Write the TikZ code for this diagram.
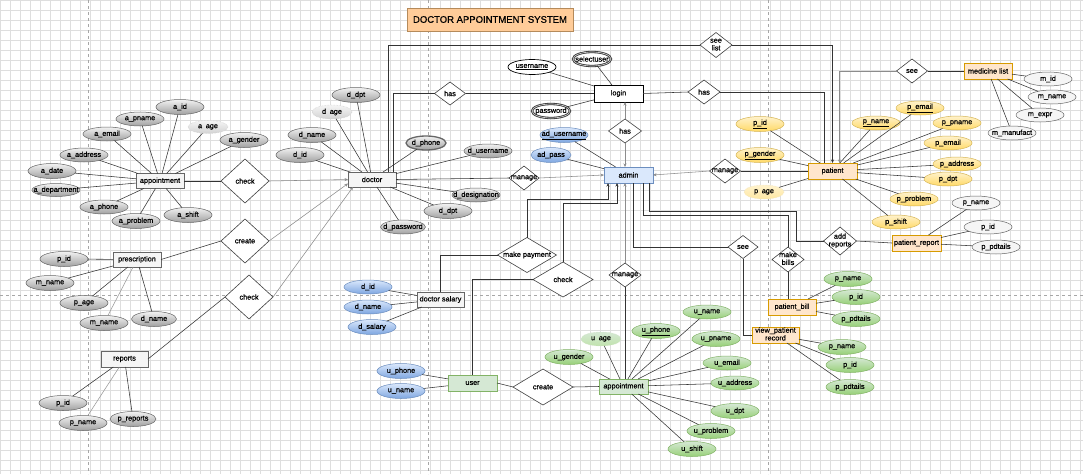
\documentclass[tikz,border=0pt]{standalone}
\usepackage{fontspec}
\setmainfont{Liberation Sans}
\newfontfamily\lblfont{Liberation Sans}[RawFeature={embolden=0.5}]
\usetikzlibrary{shapes.geometric,arrows.meta}
\definecolor{entgray}{HTML}{F5F5F5}
\definecolor{entgrayd}{HTML}{666666}
\definecolor{orfill}{HTML}{FFE6CC}
\definecolor{ordraw}{HTML}{D79B00}
\definecolor{gnfill}{HTML}{D5E8D4}
\definecolor{gndraw}{HTML}{82B366}
\definecolor{gnbot}{HTML}{97D077}
\definecolor{blfill}{HTML}{DAE8FC}
\definecolor{bldraw}{HTML}{6C8EBF}
\definecolor{blbot}{HTML}{7EA6E0}
\definecolor{yefill}{HTML}{FFF2CC}
\definecolor{yedraw}{HTML}{D6B656}
\definecolor{yebot}{HTML}{FFD966}
\definecolor{gytop}{HTML}{F2F2F2}
\definecolor{gybot}{HTML}{A0A0A0}
\definecolor{titlefill}{HTML}{FFCC99}
\definecolor{titledraw}{HTML}{B58A5A}
\newcommand{\mkatt}[4]{\node[#1] (#2) at (#3) {\makebox[0pt]{#4}};}
\newcommand{\mkrel}[5]{\node[rel,minimum width=#4,minimum height=#5] (#1) at (#2) {\makebox[0pt]{#3}};}
\newcommand{\twol}[2]{\begin{tabular}{@{}c@{}}#1\\#2\end{tabular}}
\tikzset{
 lbl/.style={font=\lblfont\fontsize{7.3}{7.8}\selectfont, inner sep=0pt, outer sep=0pt, align=center},
 ent/.style={lbl, rectangle, draw=entgrayd, fill=entgray, minimum width=48, minimum height=15, line width=0.6pt},
 entO/.style={ent, draw=ordraw, fill=orfill, line width=0.8pt},
 entG/.style={ent, draw=gndraw, fill=gnfill, line width=0.8pt},
 entB/.style={ent, draw=bldraw, fill=blfill, line width=0.8pt},
 att/.style={lbl, ellipse, minimum width=48, minimum height=15, line width=0.5pt},
 attGr/.style={att, draw=entgrayd, top color=gytop, bottom color=gybot},
 attBl/.style={att, draw=bldraw, top color=blfill, bottom color=blbot},
 attY/.style={att, draw=yedraw, top color=yefill, bottom color=yebot},
 attGn/.style={att, draw=gndraw, top color=gnfill, bottom color=gnbot},
 attW/.style={att, draw=entgrayd, fill=entgray},
 attLo/.style={att, draw=black, fill=white, line width=0.7pt},
 attD/.style={att, draw=black!80, double=gray!40, double distance=0.7pt, line width=0.8pt, fill=white},
 ageGr/.style={att, minimum width=40, minimum height=13, draw=gray!40, densely dotted, top color=gray!8, bottom color=gray!35},
 rel/.style={lbl, diamond, draw=black!75, fill=white, line width=0.6pt, aspect=1},
 ln/.style={draw=black!80, line width=0.55pt},
 lnG/.style={draw=black!40, line width=0.55pt},
 arr/.style={ln, -{Stealth[length=3.5pt,width=3pt]}},
 arrG/.style={draw=black!45, line width=0.55pt, -{Stealth[length=3.5pt,width=3pt]}},
 gridl/.style={draw=black!13, line width=0.3pt},
 pagel/.style={draw=black!35, line width=0.4pt, dashed},
 ttl/.style={rectangle, draw=titledraw, fill=titlefill, line width=0.6pt, minimum width=166, minimum height=23, inner sep=0pt, font=\lblfont\fontsize{9.5}{11}\selectfont},
}
\begin{document}
\begin{tikzpicture}[x=1pt,y=-1pt]
\useasboundingbox (0,0) rectangle (1083,474);
\fill[white] (0,0) rectangle (1083,474);
\foreach \gx in {0,10,...,1080} \draw[gridl] (\gx,0) -- (\gx,474);
\foreach \gy in {0,10,...,470} \draw[gridl] (0,\gy) -- (1083,\gy);
\draw[pagel] (88,0) -- (88,474);
\draw[pagel] (428,0) -- (428,474);
\draw[pagel] (768,0) -- (768,474);
\draw[pagel] (0,295) -- (1083,295);

% title
\node[ttl] (title) at (490,19.5) {DOCTOR APPOINTMENT SYSTEM};

% entities
\node[ent] (apptL) at (160,181) {appointment};
\node[ent] (doctor) at (372,179.5) {doctor};
\node[ent] (presc) at (137,259.5) {prescription};
\node[ent,minimum width=47,minimum height=16] (reports) at (124.5,359) {reports};
\node[ent,minimum width=47] (dsal) at (440.5,299.5) {doctor salary};
\node[ent,draw=black,fill=white,line width=0.9pt,minimum width=49,minimum height=17] (login) at (618.5,93.5) {login};
\node[entB,minimum width=49,minimum height=16] (admin) at (628.5,175) {admin};
\node[entO,minimum width=49,minimum height=16] (patient) at (832.5,171) {patient};
\node[entO,minimum height=16] (medlist) at (988,71) {medicine list};
\node[entO,minimum width=49,minimum height=16] (prep) at (916.5,243) {\makebox[0pt]{patient\_report}};
\node[entO,minimum height=16] (bill) at (792,307) {patient\_bill};
\node[entO,minimum width=47,minimum height=16] (vrec) at (775.5,335) {\makebox[0pt]{\twol{view\_patient}{record}}};
\node[entG,minimum width=49,minimum height=16] (user) at (472.5,383) {user};
\node[entG,minimum width=49] (apptU) at (623.5,386.5) {appointment};

% relations
\mkrel{checkL}{245,181}{check}{48}{44}
\mkrel{createL}{245,241}{create}{48}{44}
\mkrel{checkLL}{249,297}{check}{48}{44}
\mkrel{hasL}{450,93.5}{has}{31}{23}
\mkrel{seelist}{716,45}{\twol{see}{list}}{32}{25}
\mkrel{hasR}{704,92}{has}{32}{24}
\mkrel{hasA}{625,131}{has}{33}{24}
\mkrel{manageC}{524,178}{manage}{30}{24}
\mkrel{manageR}{725,171}{manage}{31}{24}
\mkrel{seeM}{912,71}{see}{31}{24}
\mkrel{addrep}{840,241}{\twol{add}{reports}}{33}{28}
\mkrel{seeV}{743,247}{see}{30}{23}
\mkrel{mbills}{788,259.5}{\twol{make}{bills}}{32}{25}
\mkrel{mpay}{527,255}{make payment}{59}{35}
\mkrel{checkC}{563,279.5}{check}{60}{35}
\mkrel{manageB}{625,275}{manage}{32}{24}
\mkrel{createB}{543,387}{create}{60}{36}

% appointment (left) attributes
\mkatt{attGr}{aid}{180,107}{a\_id}
\mkatt{attGr,minimum height=14}{apname}{140,119}{a\_pname}
\mkatt{ageGr}{aage}{208,127}{a\enspace age}
\mkatt{attGr}{agender}{244,140}{a\_gender}
\mkatt{attGr,minimum height=14}{aemail}{107,134}{a\_email}
\mkatt{attGr,minimum height=14}{aaddress}{84,155}{a\_address}
\mkatt{attGr}{adate}{52,171}{a\_date}
\mkatt{attGr,minimum height=13}{adept}{56,190}{a\_department}
\mkatt{attGr,minimum height=14}{aphone}{104,207}{a\_phone}
\mkatt{attGr}{aproblem}{136,221}{a\_problem}
\mkatt{attGr}{ashift}{188,215}{a\_shift}

% doctor attributes
\mkatt{attGr}{ddpt}{356,95}{d\_dpt}
\mkatt{ageGr,minimum height=14}{dage}{332,112}{d\enspace age}
\mkatt{attGr}{dname}{312,135}{d\_name}
\mkatt{attGr}{did}{300,155}{d\_id}
\mkatt{attGr,minimum width=40,minimum height=14,draw=black!60,line width=1.3pt}{dphone}{426,143}{d\_phone}
\mkatt{attGr,minimum height=14}{dusername}{488,151}{d\_username}
\mkatt{attGr,minimum height=14}{ddesig}{476,195}{d\_designation}
\mkatt{attGr}{ddpt2}{448,211}{d\_dpt}
\mkatt{attGr,minimum width=45,minimum height=14}{dpassword}{403,227}{d\_password}

% login attributes
\mkatt{attLo}{lusername}{532,67}{\underline{username}}
\mkatt{attD,minimum width=38,minimum height=14}{lselect}{592,59}{selectuser}
\mkatt{attD,minimum width=38,minimum height=14}{lpassword}{551,111}{password}

% admin attributes
\mkatt{attBl}{adusername}{564,135}{\underline{ad\_username}}
\mkatt{attBl,minimum width=40}{adpass}{551,155}{ad\_pass}

% patient attributes
\mkatt{attY}{pid}{760,124}{\underline{p\_id}}
\mkatt{attY}{pgender}{760,155}{\underline{p\_gender}}
\mkatt{attY,minimum width=40,minimum height=14,draw=yedraw!40,densely dotted,bottom color=yebot!60}{page}{764,192}{p\enspace age}
\mkatt{attY,minimum height=14}{pname}{876,123}{\underline{p\_name}}
\mkatt{attY,minimum height=14}{pemail}{920,108}{\underline{p\_email}}
\mkatt{attY,minimum height=14}{ppname}{957,123}{p\_pname}
\mkatt{attY,minimum height=14}{pemailb}{948,143}{p\_email}
\mkatt{attY,minimum height=14}{paddress}{957,164}{p\_address}
\mkatt{attY,minimum height=14}{pdpt}{948,179}{p\_dpt}
\mkatt{attY,minimum height=14}{pproblem}{914,199}{p\_problem}
\mkatt{attY,minimum height=14}{pshift}{896,222}{p\_shift}

% medicine list attributes
\mkatt{attW,minimum height=14}{mid}{1048,79}{m\_id}
\mkatt{attW,minimum height=14}{mname}{1052,97}{m\_name}
\mkatt{attW,minimum height=14}{mexpr}{1040,115}{m\_expr}
\mkatt{attW,minimum height=14}{mmanu}{1012,133}{m\_manufact}

% patient report attributes
\mkatt{attW,minimum height=14}{prname}{976,203}{p\_name}
\mkatt{attW,minimum height=14}{prid}{988,227}{p\_id}
\mkatt{attW,minimum height=14}{prpd}{996,247}{p\_pdtails}

% bill attributes
\mkatt{attGn}{bname}{848,279}{p\_name}
\mkatt{attGn}{bid}{856,297}{p\_id}
\mkatt{attGn}{bpd}{856,319}{p\_pdtails}

% view record attributes
\mkatt{attGn}{vname}{842,347}{p\_name}
\mkatt{attGn}{vid}{850,365}{p\_id}
\mkatt{attGn}{vpd}{850,387}{p\_pdtails}

% appointment (user) attributes
\mkatt{attGn,minimum width=40,minimum height=14,draw=gndraw!40,densely dotted,bottom color=gnbot!60}{uage}{601,339}{u\enspace age}
\mkatt{attGn}{ugender}{569,357}{u\_gender}
\mkatt{attGn}{uphone}{656,331}{\underline{u\_phone}}
\mkatt{attGn,minimum height=14}{uname}{707,312}{u\_name}
\mkatt{attGn}{upname}{716,339}{u\_pname}
\mkatt{attGn,minimum height=14}{uemail}{727,363}{u\_email}
\mkatt{attGn,minimum height=14}{uaddress}{735,383}{u\_address}
\mkatt{attGn}{udpt}{735,411}{u\_dpt}
\mkatt{attGn}{uproblem}{711,431}{u\_problem}
\mkatt{attGn}{ushift}{692,449}{u\_shift}

% user attributes
\mkatt{attBl}{uuphone}{401,371}{u\_phone}
\mkatt{attBl}{uuname}{401,391}{u\_name}

% doctor salary attributes
\mkatt{attBl,minimum height=14}{dsid}{368,287}{d\_id}
\mkatt{attBl,minimum height=14}{dsname}{368,307}{d\_name}
\mkatt{attBl}{dssalary}{372,327}{d\_salary}

% prescription attributes
\mkatt{attGr}{pcid}{64,259}{p\_id}
\mkatt{attGr}{pcmname}{50,283}{m\_name}
\mkatt{attGr}{pcage}{84,303}{p\_age}
\mkatt{attGr}{pcmnameb}{104,323}{m\_name}
\mkatt{attGr,minimum width=45}{pcdname}{154,319}{d\_name}

% reports attributes
\mkatt{attGr}{rid}{63,403}{p\_id}
\mkatt{attGr}{rname}{83,423}{p\_name}
\mkatt{attGr,minimum width=46}{rreports}{133,419}{p\_reports}

% ---------- connectors ----------
\foreach \t in {aid,apname,aage,agender,aemail,aaddress,adate,adept,aphone,aproblem,ashift} \draw[ln] (apptL) -- (\t);
\draw[ln] (apptL.east) -- (checkL.west);
\draw[arrG] (checkL.east) -- (doctor.west);
\draw[arrG] (createL.east) -- ([yshift=-4]doctor.west);
\draw[arrG] (checkLL.east) -- ([xshift=5]doctor.south west);
\draw[ln] (presc.east) -- (createL.west);
\draw[ln] (reports.east) -- (checkLL.west);
\foreach \t in {pcid,pcmname,pcage,pcdname} \draw[ln] (presc) -- (\t);
\draw[lnG] (presc) -- (pcmnameb);
\draw[ln] (reports) -- (rid);
\draw[lnG] (reports) -- (rname);
\draw[ln] (reports) -- (rreports);

\foreach \t in {ddpt,dage,dname,did,dphone,dusername,ddesig,ddpt2,dpassword} \draw[ln] (doctor) -- (\t);
\draw[ln] ([xshift=-3]doctor.north east) |- (hasL.west);
\draw[ln] (hasL.east) -- (login.west);
\draw[ln] ([xshift=-8]doctor.north east) |- (seelist.west);
\draw[arr] (seelist.east) -| (patient.north);
\draw[ln] (login.east) -- (hasR.west);
\draw[ln] (hasR.east) -| ([xshift=-8.5]patient.north);
\draw[arrG] (seeM.west) -| ([xshift=7]patient.north);
\draw[ln] (seeM.east) -- (medlist.west);
\foreach \t in {lusername,lselect,lpassword} \draw[ln] (login) -- (\t);
\draw[arrG] (hasA.north) -- (hasA.north |- login.south);
\draw[arrG] (hasA.south) -- (hasA.south |- admin.north);
\draw[ln] (doctor.east) -- (manageC.west);
\draw[arrG] (manageC.east) -- (admin.west);
\draw[ln] (admin) -- (adusername);
\draw[ln] (admin) -- (adpass);
\draw[arrG] (manageR.west) -- (admin.east);
\draw[ln] (manageR.east) -- (patient.west);
\foreach \t in {pid,pgender,page,pname,pemail,ppname,pemailb,paddress,pdpt,pproblem,pshift} \draw[ln] (patient) -- (\t);
\foreach \t in {mid,mname,mexpr,mmanu} \draw[ln] (medlist) -- (\t);
\draw[ln] (addrep.east) -- (prep.west);
\foreach \t in {prname,prid,prpd} \draw[ln] (prep) -- (\t);

% admin bottom routes
\draw[ln] ([xshift=29]admin.south west) |- (seeV.west);
\draw[ln] ([xshift=39]admin.south west) |- ([yshift=32]mbills.north) -- (mbills.north);
\draw[ln] ([xshift=45]admin.south west) |- ([xshift=-27,yshift=30]addrep.west) |- (addrep.west);
\draw[arr] (mpay.north) |- ([xshift=4,yshift=-16]admin.south west) -- ([xshift=4]admin.south west);
\draw[arr] (checkC.north) |- ([xshift=13,yshift=-20]admin.south west) -- ([xshift=13]admin.south west);
\draw[arrG] (manageB.north) -- (manageB.north |- admin.south);
\draw[ln] (manageB.south) -- (manageB.south |- apptU.north);
\draw[ln] (mpay.west) -| (dsal.north);
\draw[ln] (checkC.west) -| (user.north);
\foreach \t in {dsid,dsname,dssalary} \draw[ln] (dsal) -- (\t);
\foreach \t in {uuphone,uuname} \draw[ln] (user) -- (\t);
\draw[ln] (user.east) -- (createB.west);
\draw[ln] (createB.east) -- (apptU.west);
\foreach \t in {uage,ugender,uphone,uname,upname,uemail,uaddress,udpt,uproblem,ushift} \draw[ln] (apptU) -- (\t);
\draw[ln] (seeV.south) |- (vrec.west);
\draw[ln] (mbills.south) -- (mbills.south |- bill.north);
\foreach \t in {bname,bid,bpd} \draw[ln] (bill) -- (\t);
\foreach \t in {vname,vid,vpd} \draw[ln] (vrec) -- (\t);
\end{tikzpicture}
\end{document}
